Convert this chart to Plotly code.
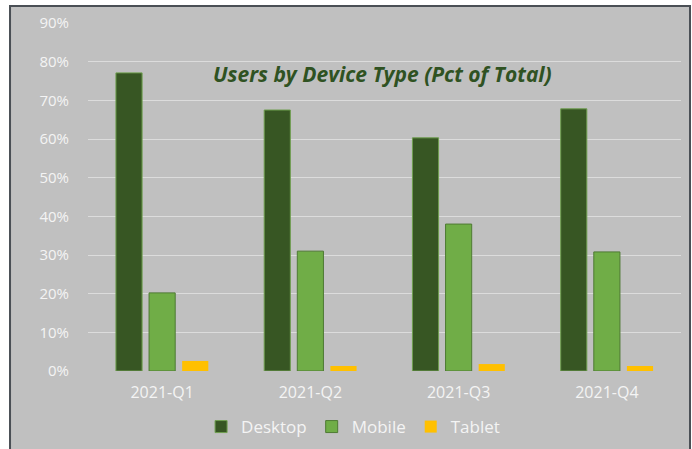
import plotly.graph_objects as go

quarters = ["2021-Q1", "2021-Q2", "2021-Q3", "2021-Q4"]
desktop = [0.771, 0.675, 0.603, 0.678]
mobile = [0.202, 0.310, 0.380, 0.308]
tablet = [0.026, 0.013, 0.018, 0.013]
y_ticks = [0, 0.1, 0.2, 0.3, 0.4, 0.5, 0.6, 0.7, 0.8, 0.9]

fig = go.Figure()
fig.add_trace(go.Bar(name="Desktop", x=quarters, y=desktop,
                     marker=dict(color="#375623", line=dict(color="#6f9f4f", width=1))))
fig.add_trace(go.Bar(name="Mobile", x=quarters, y=mobile,
                     marker=dict(color="#70ad47", line=dict(color="#4e7a33", width=1))))
fig.add_trace(go.Bar(name="Tablet", x=quarters, y=tablet,
                     marker=dict(color="#ffc000", line=dict(width=0))))

font_main = "Open Sans"
fig.update_layout(
    width=692, height=449,
    margin=dict(l=88, r=11, t=23, b=78, autoexpand=False),
    paper_bgcolor="white",
    plot_bgcolor="rgba(0,0,0,0)",
    barmode="group",
    bargap=0.33,
    bargroupgap=0.21,
    font=dict(family=font_main, color="#f4f4f4", size=14),
    showlegend=True,
    legend=dict(orientation="h", x=0.447, xanchor="center", y=-0.161, yanchor="middle",
                font=dict(size=17, color="#f4f4f4"), bgcolor="rgba(0,0,0,0)",
                itemwidth=30, traceorder="normal"),
    xaxis=dict(showgrid=False, showline=False, zeroline=False,
               tickfont=dict(size=16, color="#f4f4f4"), ticklabelstandoff=10),
    yaxis=dict(range=[0, 0.9], tickvals=y_ticks, tickformat=".0%",
               showgrid=True, gridcolor="#dcdcdc", gridwidth=1,
               zeroline=False, showline=False,
               tickfont=dict(size=15, color="#f4f4f4"), ticklabelstandoff=18),
    shapes=[dict(type="rect", xref="paper", yref="paper",
                 x0=-0.1315, x1=1.0152, y0=-0.24, y1=1.0489,
                 fillcolor="#c0c0c0", line=dict(color="#4a4f55", width=2),
                 layer="below")],
    annotations=[dict(text="<b><i>Users by Device Type (Pct of Total)</i></b>",
                      xref="paper", yref="paper", x=0.497, y=0.853,
                      xanchor="center", yanchor="middle", showarrow=False,
                      font=dict(family=font_main, size=21, color="#2f5222"))],
)

fig.write_html("out.html")
